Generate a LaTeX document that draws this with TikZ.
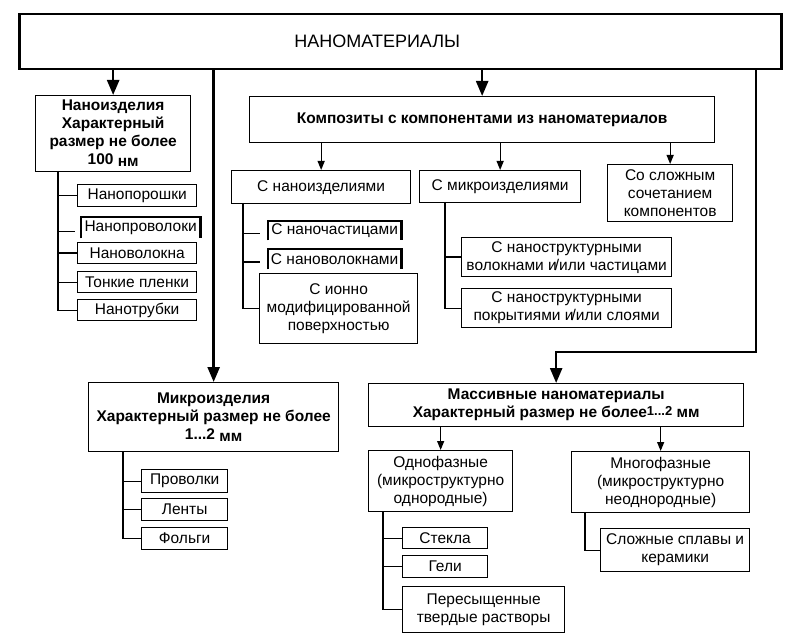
\documentclass[tikz,border=0pt]{standalone}
\usepackage{fontspec}
\setmainfont{Liberation Sans}
\usetikzlibrary{arrows.meta}
\newcommand\rgfont{\fontsize{15.5}{18}\selectfont}
\newcommand\B[7]{\node[#6,anchor=north west,minimum width=#4pt-#2pt,minimum height=#5pt-#3pt] (#1) at (#2,#3) {#7};}
\begin{document}
\begin{tikzpicture}[x=1pt,y=-1pt,
  box/.style={draw, line width=1.3pt, align=center, inner sep=0pt, font=\rgfont},
  bbox/.style={box, font=\rgfont\bfseries},
  ubox/.style={box, draw=none},
  conn/.style={line width=1.3pt},
  bigarr/.style={line width=2.5pt, -{Triangle[length=15pt,width=12pt]}},
  smarr/.style={line width=1.3pt, -{Triangle[length=9pt,width=7pt]}},
  thickline/.style={line width=2.4pt}]
\useasboundingbox (0,0) rectangle (790,639);

\B{top}{18}{13}{780}{68}{box,line width=2.5pt,font=\fontsize{18}{20}\selectfont}{НАНОМАТЕРИАЛЫ\hspace{46pt}}
\B{nano}{35}{95}{190}{171}{bbox}{Наноизделия\\Характерный\\размер не более\\100 \raisebox{-2pt}{нм}}
\B{comp}{249}{96}{714}{142}{bbox}{Композиты с компонентами из наноматериалов}
\B{cnano}{231}{170}{410}{203}{box}{С наноизделиями}
\B{cmicro}{419}{170}{580}{202}{box}{С микроизделиями}
\B{ccx}{607}{164}{732}{221}{box}{Со сложным\\сочетанием\\компонентов}
\B{p1}{77}{184}{196}{206}{box}{Нанопорошки}
\B{p2}{81}{217}{199}{237}{ubox}{Нанопроволоки}
\B{p3}{77}{242}{196}{263}{box}{Нановолокна}
\B{p4}{77}{271}{196}{292}{box}{Тонкие пленки}
\B{p5}{77}{299}{196}{320}{box}{Нанотрубки}
\B{n1}{268}{221}{400}{239}{ubox}{С наночастицами}
\B{n2}{268}{249}{400}{268}{ubox}{С нановолокнами}
\B{n3}{259}{273}{417}{343}{box}{С ионно\\модифицированной\\поверхностью}
\B{m1}{461}{237}{671}{276}{box}{С наноструктурными\\волокнами и\kern-2pt/или частицами}
\B{m2}{461}{288}{671}{327}{box}{С наноструктурными\\покрытиями и\kern-2pt/или слоями}
\B{micro}{88}{382}{338}{451}{bbox}{Микроизделия\\Характерный размер не более\\1...2 \raisebox{-1.5pt}{мм}}
\B{q1}{141}{469}{227}{492}{box}{Проволки}
\B{q2}{141}{498}{227}{520}{box}{Ленты}
\B{q3}{141}{527}{227}{549}{box}{Фольги}
\B{mass}{368}{383}{743}{426}{bbox}{Массивные наноматериалы\\Характерный размер не более\raisebox{2pt}{\fontsize{13}{13}\selectfont 1...2} мм}
\B{one}{368}{450}{512}{511}{box}{Однофазные\\(микроструктурно\\однородные)}
\B{multi}{571}{451}{749}{512}{box}{Многофазные\\(микроструктурно\\неоднородные)}
\B{s1}{402}{527}{487}{548}{box}{Стекла}
\B{s2}{402}{555}{487}{577}{box}{Гели}
\B{s3}{402}{586}{564}{632}{box}{Пересыщенные\\твердые растворы}
\B{k1}{600}{528}{749}{571}{box}{Сложные сплавы и\\керамики}

% thick open boxes
\foreach \n in {p2,n1,n2}
  \draw[thickline] (\n.south west) -- (\n.north west) -- (\n.north east) -- (\n.south east);

% main arrows
\draw[bigarr] (top.south -| nano.north) -- (nano.north);
\draw[bigarr] (top.south -| comp.north) -- (comp.north);
\draw[bigarr] (top.south -| micro.north) -- (micro.north);
\coordinate (rt) at (756,352);
\draw[bigarr] (top.south -| rt) -- (rt) -| (mass.north);

% small arrows
\draw[smarr] (comp.south -| cnano.north) -- (cnano.north);
\draw[smarr] (comp.south -| cmicro.north) -- (cmicro.north);
\draw[smarr] (comp.south -| ccx.north) -- (ccx.north);
\draw[smarr] (mass.south -| one.north) -- (one.north);
\draw[smarr] (mass.south -| multi.north) -- (multi.north);

% trees
\coordinate (lt) at (58,171);
\draw[conn] (lt) |- (p5.west);
\foreach \n in {p1,p3,p4} \draw[conn] (lt |- \n.west) -- (\n.west);
\draw[conn] ([yshift=-4pt]lt |- p2.west) -- ([xshift=-6pt,yshift=-4pt]p2.west);

\coordinate (ct) at (243,203);
\draw[conn] (ct) |- (n3.west);
\draw[conn] ([yshift=-3pt]ct |- n1.west) -- ([xshift=-8pt,yshift=-3pt]n1.west);
\draw[conn] ([yshift=-3pt]ct |- n2.west) -- ([xshift=-8pt,yshift=-3pt]n2.west);

\coordinate (mt) at (445,202);
\draw[conn] (mt) |- (m2.west);
\draw[conn] (mt |- m1.west) -- (m1.west);

\coordinate (qt) at (123,451);
\draw[conn] (qt) |- (q3.west);
\foreach \n in {q1,q2} \draw[conn] (qt |- \n.west) -- (\n.west);

\coordinate (ot) at (383,511);
\draw[conn] (ot) |- (s3.west);
\foreach \n in {s1,s2} \draw[conn] (ot |- \n.west) -- (\n.west);

\coordinate (kt) at (585,512);
\draw[conn] (kt) |- (k1.west);
\end{tikzpicture}
\end{document}
